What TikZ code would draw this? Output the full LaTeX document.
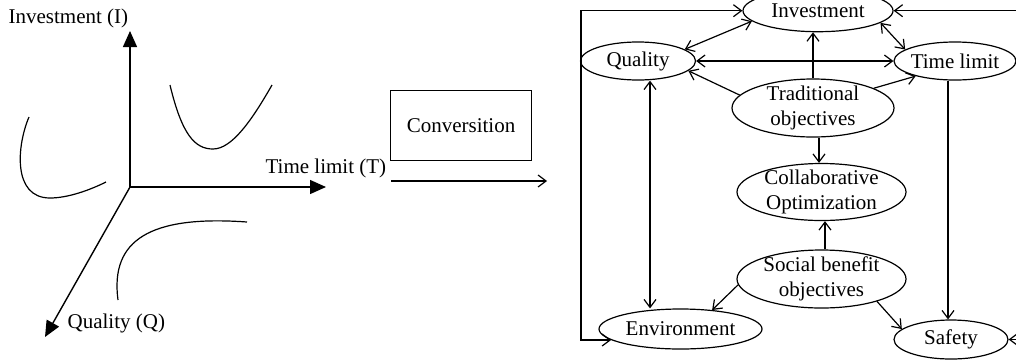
\documentclass[tikz,border=0pt]{standalone}
\usepackage{fontspec}
\setmainfont{Liberation Serif}
\usepackage{tikz}
\usetikzlibrary{arrows.meta,shapes.geometric}

\begin{document}
\begin{tikzpicture}[x=0.5pt,y=-0.5pt,
  font=\fontsize{10.5}{12.5}\selectfont,
  line width=0.6pt,
  >={Straight Barb[length=4pt,width=6pt]},
  axis/.style={line width=0.7pt,-{Triangle[length=8pt,width=7pt]}},
  obj/.style={draw,ellipse,inner sep=-3pt,align=center}]
\useasboundingbox (0,0) rectangle (1016,359);
\clip (0,0) rectangle (1016,359);
%%%AXES
\coordinate (O) at (130,187);
\coordinate (I) at (130,31);
\coordinate (T) at (326,187);
\coordinate (Q) at (45,337);
\draw[axis] (O) -- (I);
\draw[axis] (O) -- (T);
\draw[axis] (O) -- (Q);
\node[anchor=base west,inner sep=0pt] (labI) at (8,23) {Investment (I)};
\node[anchor=base west,inner sep=0pt] (labT) at (265,173) {Time limit (T)};
\node[anchor=base west,inner sep=0pt] (labQ) at (67,328) {Quality (Q)};
%%%CURVES
\draw (170,85) .. controls (182,135) and (195,149) .. (213,149) .. controls (232,149) and (252,120) .. (272,85);
\draw (29,117) .. controls (17,145) and (12,198) .. (50,198) .. controls (68,198) and (90,190) .. (106,182);
\draw (118,300) .. controls (110,240) and (150,215) .. (247,222);
%%%CONVERSION
\node[draw,minimum width=70.5pt,minimum height=35pt,inner sep=0pt] (conv) at (461,125.5) {Conversition};
\coordinate (cin) at (391,181);
\coordinate (cout) at (547,181);
\draw[->] (cin) -- (cout);
%%%OBJECTIVES
\node[obj,minimum width=75pt,minimum height=21pt] (inv) at (818,10.7) {Investment};
\node[obj,minimum width=57.5pt,minimum height=19pt] (qual) at (638,61) {Quality};
\node[obj,minimum width=61pt,minimum height=19pt] (time) at (955,61) {Time limit};
\node[obj,minimum width=81pt,minimum height=29pt] (trad) at (813,108) {Traditional\\objectives};
\node[obj,minimum width=84.5pt,minimum height=28.5pt] (collab) at (821.5,192) {Collaborative\\Optimization};
\node[obj,minimum width=84.5pt,minimum height=29pt] (social) at (821.5,279) {Social benefit\\objectives};
\node[obj,minimum width=81.5pt,minimum height=20pt] (env) at (680.5,329) {Environment};
\node[obj,minimum width=57pt,minimum height=19.5pt] (safety) at (951,339.5) {Safety};
%%%RELATIONS
\coordinate (lft) at (581,0);
\coordinate (rgt) at (1016,0);
\draw[<->] (inv.189) -- (qual.14);
\draw[<->] (inv.-11) -- (time.167);
\draw[<->] (qual) -- (time);
\draw[->] (trad.north) -- (trad.north |- inv.south);
\draw[->] (trad.170) -- (qual.349);
\draw[->] (trad.18) -- (time.201);
\draw[->] ([xshift=3pt]trad.south) -- ([xshift=3pt]trad.south |- collab.north);
\draw[->] ([xshift=1.75pt]social.north) -- ([xshift=1.75pt]social.north |- collab.south);
\draw[->] (social.184) -- (env.31);
\draw[->] (social.338) -- (safety.168);
\draw[<->] ([xshift=6pt]qual.south) -- ([xshift=6pt]qual.south |- env.north);
\draw[->] ([xshift=-3.5pt]time.south) -- ([xshift=-3.5pt]time.south |- safety.north);
\draw[<->] (inv.west) -- (inv.west -| lft) |- (env.189);
\draw[->] (inv.east -| rgt) -- (inv.east);
\draw[->] (safety.east -| rgt) -- (safety.east);
\end{tikzpicture}
\end{document}
